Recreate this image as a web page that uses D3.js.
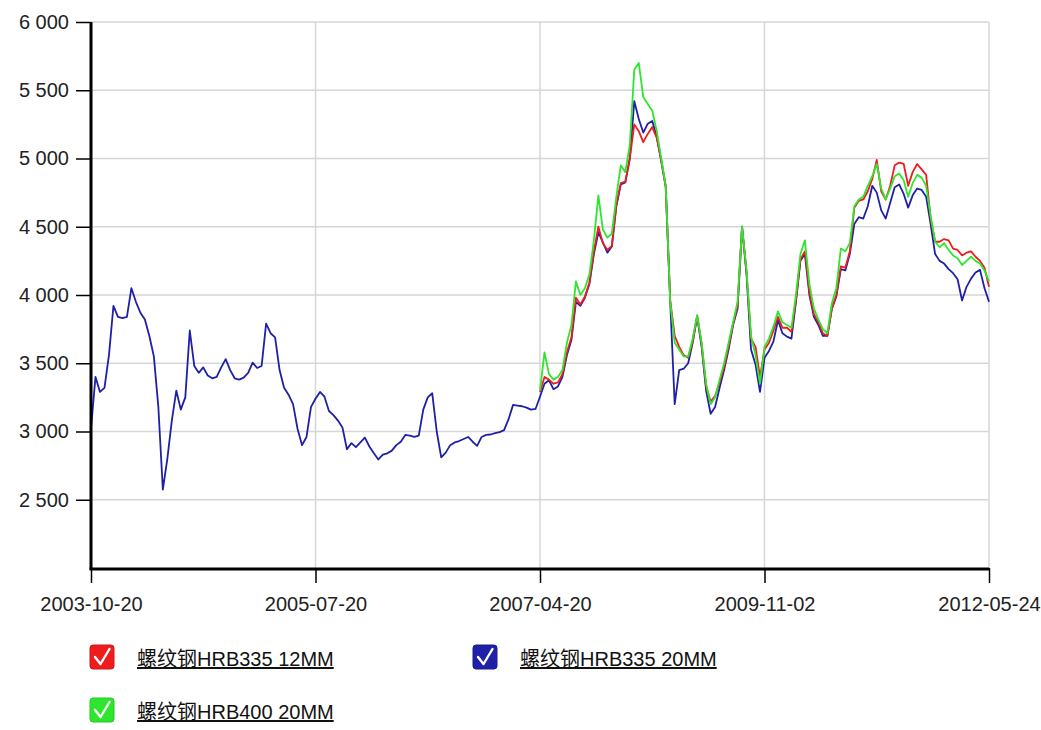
<!DOCTYPE html>
<html>
<head>
<meta charset="utf-8">
<script src="https://cdn.jsdelivr.net/npm/d3@7"></script>
<style>
  html, body { margin: 0; padding: 0; background: #fff; }
  svg { display: block; }
  text { font-family: "Liberation Sans", Arial, "Noto Sans CJK SC", sans-serif; }
</style>
</head>
<body>
<svg id="chart" width="1041" height="730"></svg>
<script>
// X axis runs over observation number; labelled observations carry their dates.
const tickIndex = [0, 50, 100, 150, 200];
const tickLabels = ["2003-10-20", "2005-07-20", "2007-04-20", "2009-11-02", "2012-05-24"];
const yTicks = [2500, 3000, 3500, 4000, 4500, 5000, 5500, 6000];

// 螺纹钢HRB335 20MM — full history (observations 0..200)
const hrb335_20 = [
  3020,3400,3290,3320,3560,3920,3840,3830,3840,4050,
  3950,3870,3820,3700,3550,3180,2575,2800,3080,3300,
  3160,3250,3740,3480,3430,3470,3410,3390,3400,3470,
  3530,3450,3390,3380,3395,3430,3505,3465,3480,3790,
  3720,3690,3450,3320,3270,3200,3020,2900,2960,3180,
  3240,3290,3255,3150,3120,3080,3030,2870,2915,2885,
  2920,2955,2890,2840,2795,2830,2840,2860,2900,2925,
  2975,2970,2960,2970,3160,3250,3280,3000,2810,2845,
  2900,2920,2930,2945,2960,2925,2895,2960,2975,2978,
  2988,2995,3010,3090,3195,3190,3185,3175,3160,3165,
  3255,3350,3375,3310,3330,3400,3560,3670,3950,3920,
  3980,4080,4300,4460,4385,4310,4355,4650,4810,4825,
  5000,5420,5290,5190,5255,5275,5160,4980,4790,3950,
  3200,3450,3460,3500,3650,3840,3620,3300,3130,3180,
  3320,3450,3600,3780,3900,4500,4150,3600,3490,3290,
  3540,3590,3660,3815,3720,3695,3680,3950,4250,4300,
  4000,3840,3780,3700,3700,3900,3990,4190,4180,4300,
  4520,4570,4560,4650,4800,4750,4620,4560,4675,4790,
  4810,4740,4640,4730,4780,4770,4720,4520,4300,4250,
  4230,4190,4160,4115,3960,4060,4120,4165,4184,4050,
  3950
];

// The other two grades are quoted from observation 100 onward
const laterStart = 100;

// 螺纹钢HRB335 12MM
const hrb335_12 = [
  3290,3400,3380,3350,3360,3420,3580,3690,3980,3930,
  3990,4090,4320,4500,4380,4330,4360,4660,4820,4830,
  5000,5250,5200,5120,5180,5230,5150,4990,4800,3960,
  3700,3620,3560,3540,3660,3850,3640,3330,3220,3260,
  3360,3470,3620,3790,3920,4500,4170,3680,3620,3400,
  3600,3650,3740,3840,3760,3760,3730,3960,4260,4320,
  4020,3860,3800,3720,3700,3900,4000,4210,4200,4320,
  4640,4690,4700,4760,4850,4990,4760,4700,4800,4950,
  4970,4960,4800,4900,4960,4920,4880,4560,4390,4390,
  4410,4400,4340,4330,4290,4310,4320,4280,4250,4200,
  4060
];

// 螺纹钢HRB400 20MM
const hrb400_20 = [
  3300,3580,3420,3380,3400,3450,3650,3780,4100,4000,
  4050,4150,4400,4730,4480,4420,4450,4720,4950,4900,
  5100,5650,5700,5450,5400,5350,5200,5000,4800,3950,
  3650,3600,3550,3550,3680,3850,3650,3350,3200,3250,
  3380,3500,3650,3800,3950,4500,4180,3700,3560,3350,
  3620,3680,3770,3880,3800,3780,3760,4000,4300,4400,
  4080,3900,3820,3750,3720,3940,4050,4340,4320,4380,
  4650,4700,4720,4800,4870,4960,4780,4700,4780,4870,
  4890,4840,4720,4820,4880,4860,4800,4580,4390,4350,
  4380,4330,4290,4270,4220,4250,4280,4250,4230,4180,
  4100
];

const seriesNames = ["螺纹钢HRB335 12MM", "螺纹钢HRB335 20MM", "螺纹钢HRB400 20MM"];
const seriesColors = ["#ee1c1c", "#1f1fa8", "#2ee62e"];

const series = [
  { name: seriesNames[0], color: seriesColors[0], start: laterStart, values: hrb335_12 },
  { name: seriesNames[1], color: seriesColors[1], start: 0, values: hrb335_20 },
  { name: seriesNames[2], color: seriesColors[2], start: laterStart, values: hrb400_20 }
];

const svg = d3.select("#chart");
const plotL = 91, plotR = 989, plotT = 22, plotB = 568;

const x = d3.scaleLinear().domain([0, 200]).range([plotL, plotR]);
const y = d3.scaleLinear().domain([2000, 6000]).range([plotB, plotT]);

const locale = d3.formatLocale({ decimal: ".", thousands: " ", grouping: [3], currency: ["", ""] });
const fmt = locale.format(",");

// grid
const grid = svg.append("g");
grid.selectAll("line.h").data(yTicks).join("line")
  .attr("x1", plotL).attr("x2", plotR)
  .attr("y1", d => y(d)).attr("y2", d => y(d))
  .attr("stroke", "#d6d6d6").attr("stroke-width", 1.5);
grid.selectAll("line.v").data(tickIndex.slice(1)).join("line")
  .attr("x1", d => x(d)).attr("x2", d => x(d))
  .attr("y1", plotT).attr("y2", plotB)
  .attr("stroke", "#d6d6d6").attr("stroke-width", 1.5);

// lines
const line = d3.line().x(d => x(d[0])).y(d => y(d[1]));
const drawOrder = [1, 0, 2];
drawOrder.forEach(k => {
  const s = series[k];
  const pts = s.values.map((v, i) => [s.start + i, v]);
  svg.append("path").datum(pts)
    .attr("fill", "none")
    .attr("stroke", s.color)
    .attr("stroke-width", 1.8)
    .attr("stroke-linejoin", "round")
    .attr("d", line);
});

// y axis
const yAxis = svg.append("g").attr("transform", `translate(${plotL},0)`)
  .call(d3.axisLeft(y).tickValues(yTicks).tickFormat(fmt).tickSize(15).tickPadding(7));
yAxis.select(".domain").remove();
yAxis.selectAll(".tick line").attr("stroke", "#000").attr("stroke-width", 1.5);
yAxis.selectAll(".tick text").attr("font-size", 20).attr("fill", "#222")
  .attr("font-family", "'Liberation Sans', Arial, sans-serif");

// x axis
const xAxis = svg.append("g").attr("transform", `translate(0,${plotB})`)
  .call(d3.axisBottom(x).tickValues(tickIndex).tickFormat((d, i) => tickLabels[i]).tickSize(15).tickPadding(14));
xAxis.select(".domain").remove();
xAxis.selectAll(".tick line").attr("stroke", "#000").attr("stroke-width", 1.5);
xAxis.selectAll(".tick text").attr("font-size", 20).attr("fill", "#222")
  .attr("font-family", "'Liberation Sans', Arial, sans-serif");

// axis lines
svg.append("line").attr("x1", plotL).attr("x2", plotL).attr("y1", plotT).attr("y2", plotB + 1.5)
  .attr("stroke", "#000").attr("stroke-width", 3);
svg.append("line").attr("x1", plotL - 1.5).attr("x2", plotR).attr("y1", plotB + 1).attr("y2", plotB + 1)
  .attr("stroke", "#000").attr("stroke-width", 3);

// legend
const legendPos = [[90, 645], [473, 645], [90, 698]];
series.forEach((s, i) => {
  const g = svg.append("g").attr("transform", `translate(${legendPos[i][0]},${legendPos[i][1]})`);
  g.append("rect").attr("width", 24).attr("height", 24).attr("rx", 3)
    .attr("fill", s.color).attr("stroke", d3.color(s.color).darker(0.4)).attr("stroke-width", 1);
  g.append("path").attr("d", "M5,12 L10.5,19 L19.5,4")
    .attr("fill", "none").attr("stroke", "#fff").attr("stroke-width", 2.4)
    .attr("stroke-linecap", "round").attr("stroke-linejoin", "round");
  g.append("text").attr("x", 47).attr("y", 21)
    .attr("font-size", 20).attr("fill", "#111")
    .attr("text-decoration", "underline")
    .text(s.name);
});
</script>
</body>
</html>
